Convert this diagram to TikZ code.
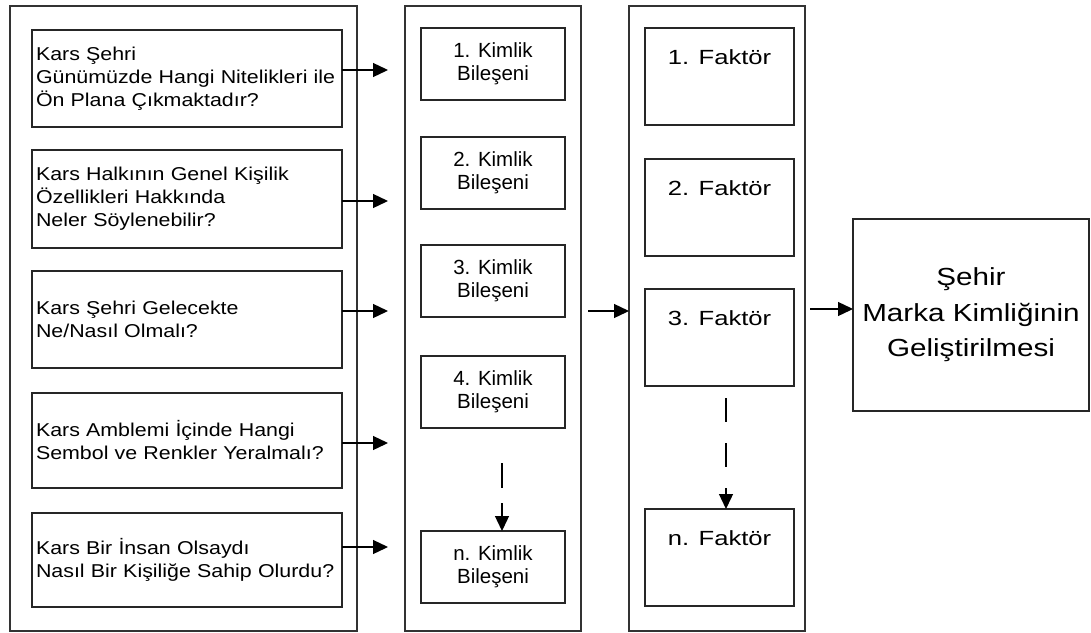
\documentclass[tikz,border=0pt]{standalone}
\usepackage{fontspec}
\setmainfont{Liberation Sans}
\newfontfamily\qfont{Liberation Sans}[FakeStretch=1.15]
\newfontfamily\ffont{Liberation Sans}[FakeStretch=1.25]
\newfontfamily\mfont{Liberation Sans}[FakeStretch=1.2]
\usetikzlibrary{arrows.meta}

\begin{document}
\begin{tikzpicture}[x=1pt,y=-1pt,
  every node/.style={inner sep=0pt, outer sep=0pt},
  outer/.style={draw=black!80, line width=1.4pt, anchor=north west, minimum height=625pt},
  qbox/.style={draw=black!85, line width=1.3pt, anchor=north west, minimum width=310pt,
    text width=302pt, align=left, font=\qfont\fontsize{18.6}{23}\selectfont},
  kbox/.style={draw=black!85, line width=1.3pt, anchor=north west, minimum width=144pt,
    minimum height=72pt, align=center, font=\fontsize{20.5}{23}\selectfont},
  fbox/.style={draw=black!85, line width=1.3pt, anchor=north west, minimum width=149pt,
    minimum height=97pt},
  ftext/.style={anchor=base, yshift=-36pt, font=\ffont\fontsize{20.5}{23}\selectfont},
  arr/.style={line width=1.3pt, -{Triangle[length=15pt,width=14pt]}},
  dasharr/.style={arr, dash pattern=on 25pt off 15pt}
]
\useasboundingbox (0,0) rectangle (1091,632);
\fill[white] (0,0) rectangle (1091,632);

% three column frames
\node[outer, minimum width=347pt] (colA) at (10,6) {};
\node[outer, minimum width=176pt] (colB) at (405,6) {};
\node[outer, minimum width=176pt] (colC) at (629,6) {};

% questions
\node[qbox, minimum height=97pt] (q1) at (32,30) {Kars Şehri\\Günümüzde Hangi Nitelikleri ile\\Ön Plana Çıkmaktadır?};
\node[qbox, minimum height=98pt] (q2) at (32,150) {Kars Halkının Genel Kişilik\\Özellikleri Hakkında\\Neler Söylenebilir?};
\node[qbox, minimum height=97pt] (q3) at (32,271) {Kars Şehri Gelecekte\\Ne/Nasıl Olmalı?};
\node[qbox, minimum height=95pt] (q4) at (32,393) {Kars Amblemi İçinde Hangi\\Sembol ve Renkler Yeralmalı?};
\node[qbox, minimum height=94pt] (q5) at (32,513) {Kars Bir İnsan Olsaydı\\Nasıl Bir Kişiliğe Sahip Olurdu?};

% identity components
\node[kbox] (b1) at (421,28) {1. Kimlik\\Bileşeni};
\node[kbox] (b2) at (421,137) {2. Kimlik\\Bileşeni};
\node[kbox] (b3) at (421,245) {3. Kimlik\\Bileşeni};
\node[kbox] (b4) at (421,356) {4. Kimlik\\Bileşeni};
\node[kbox] (bn) at (421,531) {n. Kimlik\\Bileşeni};

% factors
\node[fbox] (f1) at (645,28) {};
\node[fbox] (f2) at (645,159) {};
\node[fbox] (f3) at (645,289) {};
\node[fbox] (fn) at (645,509) {};
\node[ftext] (f1t) at (f1.north) {1. Faktör};
\node[ftext] (f2t) at (f2.north) {2. Faktör};
\node[ftext] (f3t) at (f3.north) {3. Faktör};
\node[ftext] (fnt) at (fn.north) {n. Faktör};

% outcome
\node[draw=black!85, line width=1.3pt, anchor=north west, minimum width=236pt,
  minimum height=192pt, align=center, font=\mfont\fontsize{24.7}{35.5}\selectfont]
  (fin) at (853,219) {Şehir\\Marka Kimliğinin\\Geliştirilmesi};

% arrow ends
\coordinate (a1) at (388,70);
\coordinate (a2) at (388,201);
\coordinate (a3) at (388,311);
\coordinate (a4) at (388,443);
\coordinate (a5) at (388,547);
\coordinate (b0) at (588,311);
\coordinate (c0) at (810,309);
\coordinate (bd) at (502,463);
\coordinate (fd) at (726,398);

\draw[arr] (q1.east |- a1) -- (a1);
\draw[arr] (q2.east |- a2) -- (a2);
\draw[arr] (q3.east |- a3) -- (a3);
\draw[arr] (q4.east |- a4) -- (a4);
\draw[arr] (q5.east |- a5) -- (a5);
\draw[arr] (b0) -- (colC.west |- b0);
\draw[arr] (c0) -- (fin.west |- c0);

\draw[dasharr] (bd) -- (bd |- bn.north);
\draw[dash pattern=on 24pt off 21pt, arr] (fd) -- (fd |- fn.north);
\end{tikzpicture}
\end{document}
